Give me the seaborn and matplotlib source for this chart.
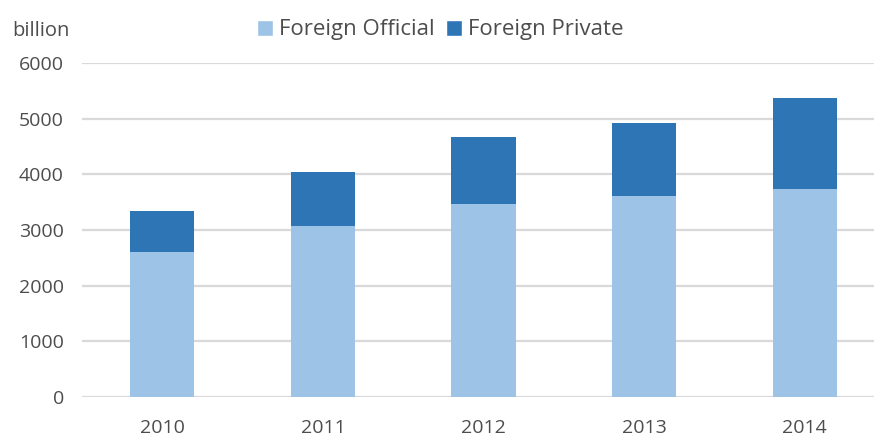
import matplotlib
matplotlib.use("Agg")
import matplotlib.pyplot as plt
import seaborn as sns
import pandas as pd
from matplotlib.patches import Patch

years = ["2010", "2011", "2012", "2013", "2014"]
foreign_official = [2600, 3070, 3460, 3615, 3735]
foreign_private = [740, 975, 1215, 1300, 1645]

df = pd.DataFrame({"year": years, "official": foreign_official, "private": foreign_private})
df["total"] = df["official"] + df["private"]

light = "#9DC3E6"
dark = "#2E75B6"
grey = "#4d4d4d"

sns.set_style("white")
plt.rcParams["font.family"] = ["Open Sans", "DejaVu Sans"]

fig = plt.figure(figsize=(8.74, 4.38), dpi=100)
ax = fig.add_axes([82 / 874, 41 / 438, (885 - 82) / 874, 334 / 438])

# stacked: total in dark, official drawn over it in light
sns.barplot(data=df, x="year", y="total", color=dark, width=0.4, saturation=1, linewidth=0, ax=ax)
sns.barplot(data=df, x="year", y="official", color=light, width=0.4, saturation=1, linewidth=0, ax=ax)

ax.set_ylim(0, 6000)
ax.set_xlim(-0.5, 4.5)
ax.set_yticks(range(0, 6001, 1000))
ax.yaxis.grid(True, color="#d9d9d9", linewidth=1.6)
ax.set_axisbelow(True)
for s in ax.spines.values():
    s.set_visible(False)
ax.set_xlabel("")
ax.set_ylabel("")
ax.tick_params(axis="y", length=0, pad=13, labelsize=14, labelcolor=grey)
ax.tick_params(axis="x", length=0, pad=16, labelsize=14, labelcolor=grey)

fig.text(12 / 874, 1 - 31 / 438, "billion", fontsize=14.5, color=grey, va="center", ha="left")

handles = [Patch(facecolor=light, label="Foreign Official"),
           Patch(facecolor=dark, label="Foreign Private")]
fig.legend(handles=handles, loc="center", bbox_to_anchor=(440 / 874, 1 - 30 / 438), ncol=2,
           frameon=False, fontsize=16, labelcolor=grey, handlelength=0.75, handleheight=0.75,
           handletextpad=0.25, columnspacing=0.5)

fig.savefig("out.png", dpi=100)
